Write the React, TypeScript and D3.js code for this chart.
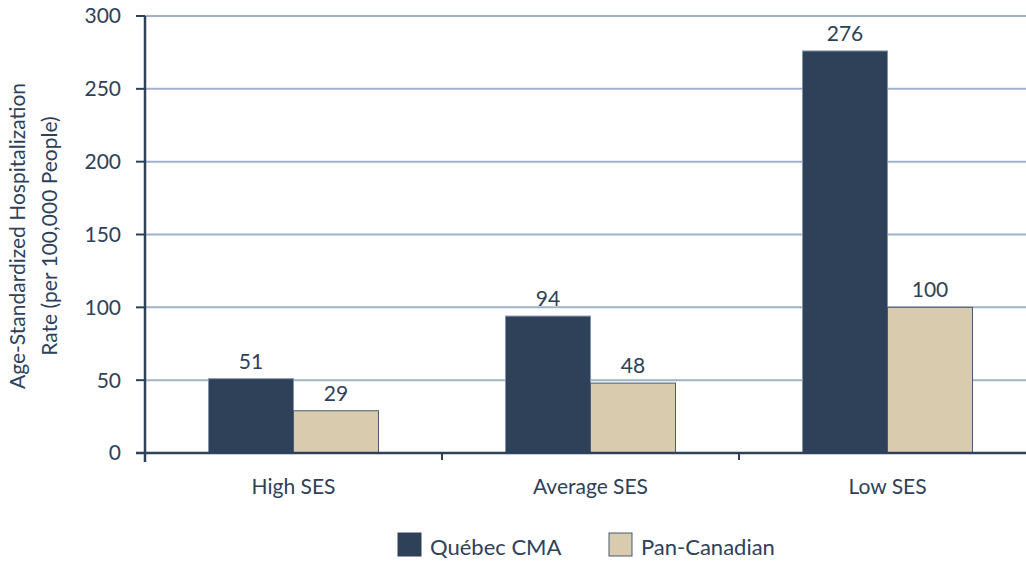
import React, { useRef, useEffect } from 'react';
import * as d3 from 'd3';

const categories = ['High SES', 'Average SES', 'Low SES'];
const seriesNames = ['Québec CMA', 'Pan-Canadian'];
const quebecValues = [51, 94, 276];
const panCanadianValues = [29, 48, 100];
const yTicks = [0, 50, 100, 150, 200, 250, 300];

const navy = '#2e4159';
const tan = '#d9cbad';
const gridColor = '#a0b2c9';
const textColor = '#2e4159';
const font = 'Lato, "Open Sans", sans-serif';

const App = () => {
  const svgRef = useRef<SVGSVGElement>(null);
  const width = 1026;
  const height = 561;

  useEffect(() => {
    document.body.style.margin = '0';
    const svg = d3.select(svgRef.current);
    svg.selectAll('*').remove();

    const left = 145, top = 16, bottom = 453;
    const x0 = d3.scaleBand().domain(categories).range([left, left + 891]).paddingInner(0).paddingOuter(0);
    const x1 = d3.scaleBand().domain(seriesNames).range([0, x0.bandwidth()]).paddingInner(0).paddingOuter(0.747);
    const y = d3.scaleLinear().domain([0, 300]).range([bottom, top]);

    // grid lines
    svg.append('g')
      .selectAll('line')
      .data(yTicks.filter(d => d > 0))
      .enter()
      .append('line')
      .attr('x1', left)
      .attr('x2', width)
      .attr('y1', d => y(d))
      .attr('y2', d => y(d))
      .attr('stroke', gridColor)
      .attr('stroke-width', 2);

    const data = categories.map((c, i) => ({ cat: c, values: [quebecValues[i], panCanadianValues[i]] }));

    const groups = svg.append('g')
      .selectAll('g')
      .data(data)
      .enter()
      .append('g')
      .attr('transform', d => `translate(${x0(d.cat)},0)`);

    groups.selectAll('rect')
      .data(d => d.values.map((v, j) => ({ name: seriesNames[j], value: v, j })))
      .enter()
      .append('rect')
      .attr('x', d => x1(d.name)!)
      .attr('y', d => y(d.value))
      .attr('width', x1.bandwidth())
      .attr('height', d => bottom - y(d.value))
      .attr('fill', d => (d.j === 0 ? navy : tan))
      .attr('stroke', d => (d.j === 0 ? '#8294ab' : '#4a5a70'))
      .attr('stroke-width', 1);

    groups.selectAll('text')
      .data(d => d.values.map((v, j) => ({ name: seriesNames[j], value: v })))
      .enter()
      .append('text')
      .attr('x', d => x1(d.name)! + x1.bandwidth() / 2)
      .attr('y', d => y(d.value) - 10)
      .attr('text-anchor', 'middle')
      .attr('font-family', font)
      .attr('font-size', 21)
      .attr('fill', textColor)
      .text(d => d.value);

    // y axis
    const yAxis = svg.append('g');
    yAxis.append('line')
      .attr('x1', left).attr('x2', left)
      .attr('y1', top).attr('y2', bottom + 9)
      .attr('stroke', navy).attr('stroke-width', 2.5);
    yAxis.selectAll('line.tick')
      .data(yTicks)
      .enter()
      .append('line')
      .attr('class', 'tick')
      .attr('x1', left - 9).attr('x2', left)
      .attr('y1', d => y(d)).attr('y2', d => y(d))
      .attr('stroke', navy).attr('stroke-width', 2);
    yAxis.selectAll('text')
      .data(yTicks)
      .enter()
      .append('text')
      .attr('x', 121)
      .attr('y', d => y(d))
      .attr('dy', '0.35em')
      .attr('text-anchor', 'end')
      .attr('font-family', font)
      .attr('font-size', 21)
      .attr('fill', textColor)
      .text(d => d);

    // x axis
    const xAxis = svg.append('g');
    xAxis.append('line')
      .attr('x1', left - 9).attr('x2', width)
      .attr('y1', bottom).attr('y2', bottom)
      .attr('stroke', navy).attr('stroke-width', 2.5);
    xAxis.selectAll('line.tick')
      .data(categories.slice(1))
      .enter()
      .append('line')
      .attr('class', 'tick')
      .attr('x1', d => x0(d)!).attr('x2', d => x0(d)!)
      .attr('y1', bottom).attr('y2', bottom + 7)
      .attr('stroke', navy).attr('stroke-width', 2);
    xAxis.selectAll('text')
      .data(categories)
      .enter()
      .append('text')
      .attr('x', d => x0(d)! + x0.bandwidth() / 2)
      .attr('y', 494)
      .attr('text-anchor', 'middle')
      .attr('font-family', font)
      .attr('font-size', 21)
      .attr('fill', textColor)
      .text(d => d);

    // axis title
    const title = svg.append('text')
      .attr('transform', 'translate(0,236) rotate(-90)')
      .attr('text-anchor', 'middle')
      .attr('font-family', font)
      .attr('font-size', 21)
      .attr('fill', textColor);
    title.append('tspan').attr('x', 0).attr('y', 25).text('Age-Standardized Hospitalization');
    title.append('tspan').attr('x', 0).attr('y', 57).text('Rate (per 100,000 People)');

    // legend
    const legendX = [398, 609];
    const legend = svg.append('g')
      .selectAll('g')
      .data(seriesNames)
      .enter()
      .append('g')
      .attr('transform', (d, i) => `translate(${legendX[i]},533)`);
    legend.append('rect')
      .attr('width', 23).attr('height', 23)
      .attr('fill', (d, i) => (i === 0 ? navy : tan))
      .attr('stroke', (d, i) => (i === 0 ? navy : '#4a5a70'))
      .attr('stroke-width', 1);
    legend.append('text')
      .attr('x', 32)
      .attr('y', 22)
      .attr('font-family', font)
      .attr('font-size', 22)
      .attr('fill', textColor)
      .text(d => d);
  }, []);

  return (
    <svg ref={svgRef} width={width} height={height} style={{ display: 'block', background: '#fff' }}></svg>
  );
};

export default App;
